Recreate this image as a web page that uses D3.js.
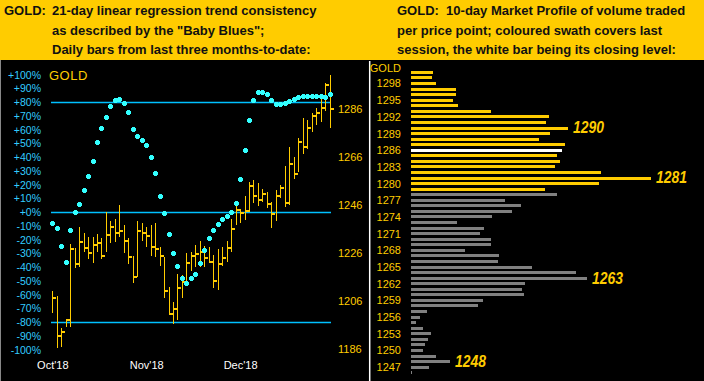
<!DOCTYPE html>
<html><head><meta charset="utf-8">
<script src="https://cdn.jsdelivr.net/npm/d3@7"></script>
<style>
html,body{margin:0;padding:0;background:#000;overflow:hidden}
svg{display:block}
text{font-family:"Liberation Sans",Arial,sans-serif}
</style></head><body>
<svg id="c" width="704" height="381"></svg>
<script>
// ---------- DATA ----------
// Left panel: daily HLC bars (63 sessions, Oct'18 .. Dec'18)
const highs = [1210.3,1208.2,1194.9,1198.8,1229.9,1228.3,1236.9,1234.4,1233.0,1232.6,
  1234.0,1232.5,1243.2,1239.6,1240.4,1246.1,1237.8,1232.2,1224.9,1239.4,
  1238.6,1236.9,1237.8,1238.6,1228.6,1224.5,1212.0,1205.7,1217.4,1217.0,
  1226.1,1226.5,1229.4,1231.1,1229.0,1228.6,1225.3,1227.8,1228.6,1231.1,
  1240.3,1247.5,1244.5,1249.9,1255.8,1256.4,1255.3,1252.7,1251.7,1247.2,
  1252.4,1254.5,1262.4,1270.3,1266.1,1273.9,1282.2,1281.5,1284.3,1286.4,
  1291.7,1296.8,1300.3];
const lows = [1201.3,1186.4,1187.1,1195.2,1195.1,1219.7,1220.4,1226.7,1223.8,1222.1,
  1226.5,1223.7,1226.7,1230.3,1230.8,1232.7,1226.3,1221.7,1213.8,1216.3,
  1231.2,1228.6,1225.0,1224.6,1220.8,1207.5,1200.4,1196.7,1198.3,1207.5,
  1214.2,1218.7,1220.4,1220.4,1220.4,1222.3,1211.7,1210.7,1220.8,1222.3,
  1226.7,1237.8,1238.7,1239.9,1243.3,1247.1,1245.8,1247.3,1244.8,1236.7,
  1239.6,1249.2,1245.4,1246.1,1257.1,1259.9,1267.5,1269.5,1276.7,1279.5,
  1280.8,1285.3,1278.3];
const closes = [1207.2,1191.7,1193.3,1198.4,1227.8,1221.7,1230.9,1228.4,1226.0,1229.3,
  1230.1,1225.0,1233.5,1236.8,1234.5,1235.4,1231.2,1224.6,1216.3,1235.4,
  1234.6,1233.3,1228.7,1227.9,1225.0,1210.4,1200.8,1202.9,1211.7,1214.2,
  1222.1,1225.0,1225.8,1226.7,1223.9,1222.5,1214.5,1221.4,1224.2,1228.1,
  1236.2,1243.9,1242.9,1243.6,1254.2,1250.0,1248.3,1250.6,1246.4,1242.4,
  1249.9,1253.3,1246.8,1263.3,1259.2,1272.5,1270.3,1278.3,1283.2,1284.6,
  1286.7,1296.3,1286.2];
// "Baby Blues": 21-day linear regression trend consistency, %
const babyBlues = [-8.1,-11.1,-24.5,-36.5,-12.9,0.2,6.3,16.4,26.6,37.5,
  51.3,61.5,69.5,77.5,81.9,82.6,79.7,73.2,60.8,55.7,
  52.8,49.2,40.2,28.8,12.1,-0.4,-15.6,-29.4,-39.1,-47.6,
  -51.4,-47.6,-44.7,-36.7,-27.2,-18.5,-12.7,-8.3,-4.7,-2.5,
  0.4,7.0,24.4,45.5,67.3,81.9,87.7,87.7,86.3,81.9,
  79.0,79.0,79.7,81.3,82.6,84.1,84.8,84.8,84.8,84.8,
  84.8,84.1,86.3];
const pctTicks = [100,90,80,70,60,50,40,30,20,10,0,-10,-20,-30,-40,-50,-60,-70,-80,-90,-100];
const pctRefLines = [80, 0, -80];
const priceTicks = [1286,1266,1246,1226,1206,1186];
const monthTickIdx = [0,21,42];
const monthLabels = ["Oct'18","Nov'18","Dec'18"];

// Right panel: 10-day market profile (volume per price point)
const profilePrices = [1300,1299,1298,1297,1296,1295,1294,1293,1292,1291,
  1290,1289,1288,1287,1286,1285,1284,1283,1282,1281,
  1280,1279,1278,1277,1276,1275,1274,1273,1272,1271,
  1270,1269,1268,1267,1266,1265,1264,1263,1262,1261,
  1260,1259,1258,1257,1256,1255,1254,1253,1252,1251,
  1250,1249,1248,1247,1246];
const profileVolumes = [22,21,25,45,45,42,47,80,138,135,
  157,139,128,154,151,146,149,144,190,240,
  188,134,146,94,110,101,81,46,73,69,
  80,80,54,88,87,121,165,176,114,111,
  113,72,67,16,9,5,12,20,17,14,
  12,25,39,18,1];
const lastSessionHigh = 1300, lastSessionLow = 1279, lastClose = 1286;
const profileTicks = [1298,1295,1292,1289,1286,1283,1280,1277,1274,1271,1268,1265,1262,1259,1256,1253,1250,1247];
const profileCallouts = [1290,1281,1263,1248];

const headerLeft = ["21-day linear regression trend consistency",
  "as described by the \"Baby Blues\";",
  "Daily bars from last three months-to-date:"];
const headerRight = ["GOLD:  10-day Market Profile of volume traded",
  "per price point; coloured swath covers last",
  "session, the white bar being its closing level:"];

// ---------- STYLE ----------
const GOLD = "#ffcc00", CYAN_TXT = "#33ccff", CYAN_LINE = "#00c0ff", CYAN_DOT = "#33ffff";
const FONT = "'Liberation Sans',Arial,sans-serif";

const svg = d3.select("#c");
svg.append("rect").attr("x",0).attr("y",0).attr("width",704).attr("height",381).attr("fill",GOLD);
svg.append("rect").attr("x",0).attr("y",60).attr("width",704).attr("height",321).attr("fill","#000");
svg.append("line").attr("x1",0.5).attr("x2",0.5).attr("y1",60).attr("y2",381).attr("stroke","#888").attr("stroke-width",1);

// headers
const hl = svg.append("g").attr("font-size",13).attr("font-weight","bold").attr("fill","#111");
hl.append("text").attr("x",4).attr("y",15).text("GOLD:");
headerLeft.forEach((t,i)=>hl.append("text").attr("x",52).attr("y",15+i*19.5).text(t));
headerRight.forEach((t,i)=>hl.append("text").attr("x",397).attr("y",15+i*19.5)
  .style("white-space","pre").text(t));

// ---------- LEFT PANEL ----------
const n = closes.length;
const x = d3.scaleLinear().domain([0, n-1]).range([52.3, 329.5]);
const yPct = d3.scaleLinear().domain([-100,100]).range([349.8, 74.8]);
const yPrice = d3.scaleLinear().domain([1186,1286]).range([349.3,109.3]);

// pct axis
svg.append("g").attr("transform","translate(41,0)")
  .call(d3.axisLeft(yPct).tickValues(pctTicks).tickSize(0).tickPadding(0)
    .tickFormat(d => (d>=0?"+":"")+d+"%"))
  .call(g=>g.select(".domain").remove())
  .call(g=>g.selectAll("text").attr("fill",CYAN_TXT).attr("font-size",10.5).attr("font-family",FONT));

// price axis (right side of left panel)
svg.append("g").attr("transform","translate(338,0)")
  .call(d3.axisRight(yPrice).tickValues(priceTicks).tickSize(0).tickPadding(0).tickFormat(d3.format("d")))
  .call(g=>g.select(".domain").remove())
  .call(g=>g.selectAll("text").attr("fill",GOLD).attr("font-size",11).attr("font-family",FONT));

// date axis
svg.append("g").attr("transform","translate(0,361)")
  .call(d3.axisBottom(x).tickValues(monthTickIdx).tickSize(0).tickPadding(0)
    .tickFormat((d,i)=>monthLabels[i]))
  .call(g=>g.select(".domain").remove())
  .call(g=>g.selectAll("text").attr("fill","#fff").attr("font-size",11).attr("font-family",FONT));

svg.append("text").attr("x",49).attr("y",79.5).attr("fill",GOLD).attr("font-size",13)
  .attr("letter-spacing",0.5).text("GOLD");

// reference lines
svg.append("g").selectAll("line").data(pctRefLines).join("line")
  .attr("x1",51).attr("x2",331)
  .attr("y1",d=>Math.round(yPct(d))+0.5).attr("y2",d=>Math.round(yPct(d))+0.5)
  .attr("stroke",CYAN_LINE).attr("stroke-width",1.3);

// HLC bars
const bars = svg.append("g").attr("fill",GOLD).attr("shape-rendering","crispEdges");
d3.range(n).forEach(i=>{
  const xi = Math.round(x(i));
  bars.append("rect").attr("x",xi).attr("width",1)
    .attr("y",yPrice(highs[i])).attr("height",yPrice(lows[i])-yPrice(highs[i]));
  bars.append("rect").attr("x",xi).attr("width",4)
    .attr("y",Math.round(yPrice(closes[i]))-1).attr("height",2);
});

// baby blues dots
const dotPath = "M-1.5,-2.5h3v1h1v3h-1v1h-3v-1h-1v-3h1z";
svg.append("g").selectAll("path").data(babyBlues).join("path")
  .attr("d",dotPath).attr("fill",CYAN_DOT)
  .attr("transform",(d,i)=>`translate(${Math.round(x(i))+0.5},${Math.round(yPct(d))+0.5})`);

// ---------- RIGHT PANEL ----------
svg.append("line").attr("x1",369.7).attr("x2",369.7).attr("y1",61).attr("y2",381)
  .attr("stroke","#fff").attr("stroke-width",1.5);

const yProf = d3.scaleLinear().domain([1300,1246]).range([72.3,372.6]);
const xProf = d3.scaleLinear().domain([0,240]).range([411,651]);

svg.append("g").attr("transform","translate(401,0)")
  .call(d3.axisLeft(yProf).tickValues(profileTicks).tickSize(0).tickPadding(0).tickFormat(d3.format("d")))
  .call(g=>g.select(".domain").remove())
  .call(g=>g.selectAll("text").attr("fill",GOLD).attr("font-size",11).attr("font-family",FONT));
svg.append("text").attr("x",401).attr("y",yProf(1300)).attr("text-anchor","end")
  .attr("fill",GOLD).attr("font-size",11).text("GOLD");

svg.append("g").attr("shape-rendering","crispEdges").selectAll("rect")
  .data(profilePrices.map((p,i)=>({p, v:profileVolumes[i]}))).join("rect")
  .attr("x",xProf(0)).attr("width",d=>xProf(d.v)-xProf(0))
  .attr("y",d=>Math.round(yProf(d.p)-1.4)).attr("height",3)
  .attr("fill",d=> d.p===lastClose ? "#fff" :
     (d.p>=lastSessionLow && d.p<=lastSessionHigh ? GOLD : "#808080"));

svg.append("g").selectAll("text").data(profileCallouts).join("text")
  .attr("x",p=>xProf(profileVolumes[profilePrices.indexOf(p)])+5)
  .attr("y",p=>yProf(p)+5.5)
  .attr("fill",GOLD).attr("font-size",16).attr("font-weight","bold").attr("font-style","italic")
  .attr("textLength",31).attr("lengthAdjust","spacingAndGlyphs")
  .text(p=>p);
</script>
</body></html>
